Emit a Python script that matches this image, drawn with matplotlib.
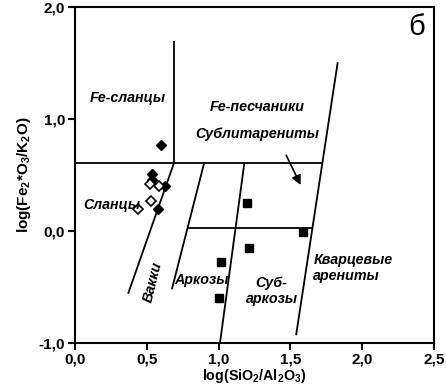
import numpy as np
from matplotlib import pyplot as plt

plt.rcParams['font.family'] = ['Liberation Sans', 'DejaVu Sans']
plt.rcParams['mathtext.fontset'] = 'custom'
plt.rcParams['mathtext.rm'] = 'Liberation Sans:bold'
plt.rcParams['mathtext.default'] = 'rm'

# sample points
filled_dia_x = [0.597, 0.534, 0.534, 0.627, 0.58]
filled_dia_y = [0.77, 0.51, 0.46, 0.40, 0.195]
open_dia_x = [0.52, 0.585, 0.527, 0.44]
open_dia_y = [0.42, 0.40, 0.27, 0.195]
square_x = [1.20, 1.59, 1.21, 1.015, 1.00]
square_y = [0.25, -0.01, -0.15, -0.28, -0.60]

# field boundaries (x pairs, y pairs)
boundaries = [
    ([0.0, 1.72], [0.61, 0.61]),
    ([0.69, 0.69], [0.61, 1.70]),
    ([0.69, 0.37], [0.61, -0.56]),
    ([0.90, 0.675], [0.61, -0.52]),
    ([1.18, 1.01], [0.61, -1.0]),
    ([1.83, 1.54], [1.51, -0.93]),
    ([0.78, 1.65], [0.03, 0.03]),
]

xticks = [0.0, 0.5, 1.0, 1.5, 2.0, 2.5]
yticks = [-1.0, 0.0, 1.0, 2.0]

fig = plt.figure(figsize=(4.46, 3.85), dpi=100)
ax = fig.add_axes([0.168, 0.109, 0.805, 0.872])

for bx, by in boundaries:
    ax.plot(bx, by, color='black', lw=1.3, solid_capstyle='butt')

ax.plot(filled_dia_x, filled_dia_y, 'D', color='black', ms=5.5, ls='none')
ax.plot(open_dia_x, open_dia_y, 'D', mfc='white', mec='black', mew=1.2, ms=5.5, ls='none')
ax.plot(square_x, square_y, 's', color='black', ms=5.5, ls='none')

ax.annotate('', xy=(1.58, 0.39), xytext=(1.463, 0.70),
            arrowprops=dict(arrowstyle='-|>', color='black', lw=1.2,
                            mutation_scale=14))

lab = dict(fontsize=10.3, fontweight='bold', fontstyle='italic',
           ha='center', va='center')
ax.text(0.37, 1.19, 'Fe-сланцы', **lab)
ax.text(1.27, 1.11, 'Fe-песчаники', **lab)
ax.text(1.27, 0.87, 'Сублитарениты', **lab)
ax.text(0.26, 0.23, 'Сланцы', **lab)
ax.text(0.545, -0.45, 'Вакки', rotation=76, **lab)
ax.text(0.88, -0.44, 'Аркозы', **lab)
ax.text(1.37, -0.535, 'Суб-\nаркозы', linespacing=1.2, **lab)
ax.text(1.66, -0.33, 'Кварцевые\nарениты', fontsize=10.3, fontweight='bold',
        fontstyle='italic', ha='left', va='center', linespacing=1.2)
ax.text(2.38, 1.82, 'б', fontsize=21, ha='center', va='center')

ax.set_xlim(0, 2.5)
ax.set_ylim(-1.0, 2.0)
ax.set_xticks(xticks)
ax.set_yticks(yticks)
ax.set_xticklabels([f'{t:.1f}'.replace('.', ',') for t in xticks],
                   fontsize=11, fontweight='bold')
ax.set_yticklabels([f'{t:.1f}'.replace('.', ',') for t in yticks],
                   fontsize=11, fontweight='bold')
ax.tick_params(direction='out', length=5, width=1.5, pad=2)
for s in ax.spines.values():
    s.set_linewidth(1.5)

ax.set_xlabel('log(SiO$_2$/Al$_2$O$_3$)', fontsize=10.3, fontweight='bold', labelpad=0)
ax.set_ylabel('log(Fe$_2$*O$_3$/K$_2$O)', fontsize=11, fontweight='bold', labelpad=4)

fig.savefig('out.png', dpi=100)
